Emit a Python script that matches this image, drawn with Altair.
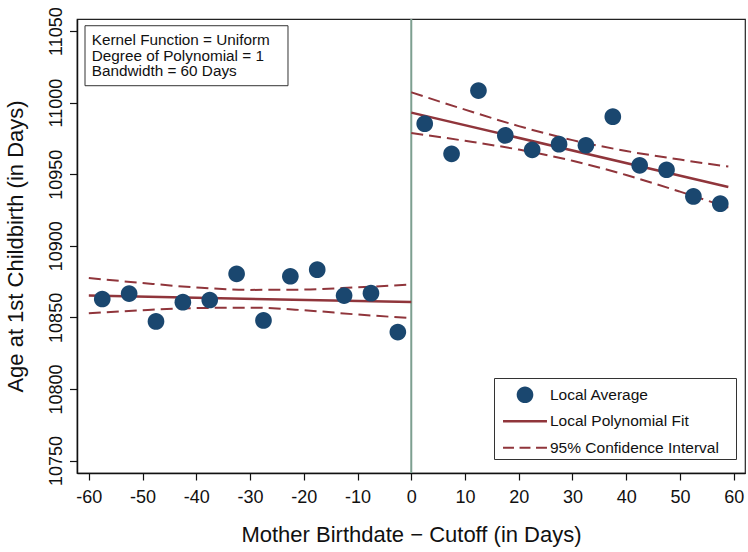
import altair as alt
import pandas as pd

# ---------------- data ----------------
left_bins = [-57.5, -52.5, -47.5, -42.5, -37.5, -32.5, -27.5, -22.5, -17.5, -12.5, -7.5, -2.5]
left_avg = [10862.8, 10866.6, 10847.2, 10860.6, 10862.1, 10880.4, 10847.9, 10878.7, 10883.3, 10865.2, 10866.9, 10839.7]
right_bins = [2.5, 7.5, 12.5, 17.5, 22.5, 27.5, 32.5, 37.5, 42.5, 47.5, 52.5, 57.5]
right_avg = [10985.3, 10964.2, 11008.4, 10977.1, 10967.0, 10971.0, 10970.2, 10990.2, 10956.2, 10953.1, 10934.5, 10929.4]

left_fit_x = [-60, 0]
left_fit = [10865.2, 10860.7]
right_fit_x = [0, 59]
right_fit = [10993.0, 10941.0]

left_ci_x = [-60, -50, -40, -30, -20, -10, 0]
left_ci_upper = [10877.5, 10874.0, 10870.9, 10869.2, 10869.4, 10871.0, 10872.9]
left_ci_lower = [10852.8, 10855.0, 10856.5, 10856.8, 10855.0, 10852.0, 10849.5]
right_ci_x = [0, 10, 20, 30, 40, 50, 59]
right_ci_upper = [11007.2, 10995.1, 10983.6, 10973.8, 10966.2, 10960.2, 10955.3]
right_ci_lower = [10978.8, 10973.3, 10967.2, 10959.4, 10949.4, 10937.8, 10926.7]

cutoff = [0]
series_names = ["Local Average", "Local Polynomial Fit", "95% Confidence Interval"]
annotation_lines = ["Kernel Function = Uniform", "Degree of Polynomial = 1", "Bandwidth = 60 Days"]
x_ticks = [-60, -50, -40, -30, -20, -10, 0, 10, 20, 30, 40, 50, 60]
y_ticks = [10750, 10800, 10850, 10900, 10950, 11000, 11050]

# ---------------- tables ----------------
pts = pd.DataFrame({
    "x": left_bins + right_bins,
    "y": left_avg + right_avg,
    "series": [series_names[0]] * (len(left_bins) + len(right_bins)),
})
fit = pd.DataFrame({
    "x": left_fit_x + right_fit_x,
    "y": left_fit + right_fit,
    "side": ["left"] * len(left_fit_x) + ["right"] * len(right_fit_x),
})
ci = pd.DataFrame({
    "x": left_ci_x * 2 + right_ci_x * 2,
    "y": left_ci_upper + left_ci_lower + right_ci_upper + right_ci_lower,
    "band": (["lu"] * len(left_ci_x) + ["ll"] * len(left_ci_x)
             + ["ru"] * len(right_ci_x) + ["rl"] * len(right_ci_x)),
})
vl = pd.DataFrame({"x": cutoff})

NAVY = "#1a476f"
MAROON = "#90353b"
VLINE = "#7d9f90"
FONT = "Liberation Sans"

xscale = alt.Scale(domain=[-62.2, 62.1], nice=False, zero=False)
yscale = alt.Scale(domain=[10741.3, 11058.4], nice=False, zero=False)

xaxis = alt.Axis(title="Mother Birthdate \u2212 Cutoff (in Days)", values=x_ticks,
                 labelExpr="toString(datum.value)", grid=False, tickSize=7,
                 labelPadding=8.5, titlePadding=18, labelFlush=False, labelOverlap=False)
yaxis = alt.Axis(title="Age at 1st Childbirth (in Days)", values=y_ticks,
                 labelExpr="toString(datum.value)", grid=False, tickSize=7.5,
                 labelAngle=270, labelAlign="center", labelBaseline="bottom",
                 labelPadding=4, titlePadding=20, labelFlush=False, labelOverlap=False)

X = alt.X("x:Q", scale=xscale, axis=xaxis)
Y = alt.Y("y:Q", scale=yscale, axis=yaxis)

# legend symbols (custom paths in unit coordinates)
circle_path = "M-1.11,0A1.11,1.11,0,1,1,1.11,0A1.11,1.11,0,1,1,-1.11,0Z"
line_path = "M-2.93,-0.17H2.93V0.17H-2.93Z"
dash_path = ("M-2.93,-0.13H-1.47V0.13H-2.93Z"
             "M-0.73,-0.13H0.73V0.13H-0.73Z"
             "M1.47,-0.13H2.93V0.13H1.47Z")

# the legend title is a white spacer that sets the box width
spacer = "M" * 57
legend_kw = dict(title=spacer, titleFontSize=5, titlePadding=2, titleColor="#ffffff",
                 titleFont=FONT, titleLimit=400, orient="none",
                 legendX=417, legendY=359, padding=2, fillColor="white",
                 strokeColor="#333333", symbolSize=225, symbolStrokeWidth=0,
                 symbolOffset=21.25, labelOffset=17.25, labelLimit=400,
                 labelFontSize=15.5, labelFont=FONT, labelColor="#111111",
                 rowPadding=9.5, symbolOpacity=1)

rule = alt.Chart(vl).mark_rule(color=VLINE, strokeWidth=2).encode(x=X)

ci_layer = alt.Chart(ci).mark_line(color=MAROON, strokeWidth=2, strokeDash=[12, 6],
                                   interpolate="monotone").encode(x=X, y=Y, detail="band:N")

fit_layer = alt.Chart(fit).mark_line(color=MAROON, strokeWidth=2.5).encode(
    x=X, y=Y, detail="side:N")

pt_layer = alt.Chart(pts).mark_point(filled=True, size=225, opacity=1, strokeWidth=0).encode(
    x=X, y=Y,
    color=alt.Color("series:N", scale=alt.Scale(domain=series_names, range=[NAVY, MAROON, MAROON]),
                    legend=alt.Legend(**legend_kw)),
    shape=alt.Shape("series:N", scale=alt.Scale(domain=series_names,
                                                range=[circle_path, line_path, dash_path]),
                    legend=alt.Legend(**legend_kw)),
)

box = alt.Chart(vl).mark_rect(fill="white", stroke="#333333", strokeWidth=1).encode(
    x=alt.datum(-60.71), x2=alt.datum(-22.94), y=alt.datum(11053.7), y2=alt.datum(11011.8))

txt = alt.Chart(vl).mark_text(text=annotation_lines, align="left", baseline="alphabetic",
                              fontSize=15.3, lineHeight=15.5, font=FONT, color="#111111").encode(
    x=alt.datum(-59.46), y=alt.datum(11040.2))

chart = alt.layer(rule, ci_layer, fit_layer, pt_layer, box, txt).properties(
    width=668, height=454,
    padding={"left": 77, "top": 19, "right": 3, "bottom": 79},
    autosize=alt.AutoSizeParams(type="none"),
).configure(background="white").configure_view(
    stroke="#222222", strokeWidth=1.2
).configure_axis(
    domainColor="#111111", domainWidth=1.5, tickColor="#111111", tickWidth=1.2,
    labelColor="#111111", titleColor="#111111", labelFont=FONT, titleFont=FONT,
    titleFontWeight="normal", labelFontSize=18, titleFontSize=22,
)

chart.save("out.html", embed_options={"renderer": "svg", "actions": False})
